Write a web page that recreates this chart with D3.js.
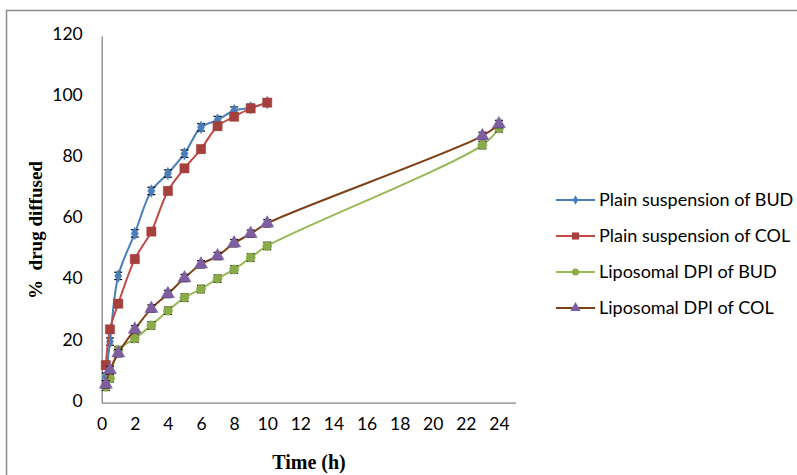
<!DOCTYPE html>
<html>
<head>
<meta charset="utf-8">
<script src="https://cdn.jsdelivr.net/npm/d3@7"></script>
<style>
  body { margin: 0; background: #fff; }
  svg { display: block; }
  .tick text { font-family: "Lato", "Open Sans", sans-serif; font-size: 17.5px; fill: #000; }
</style>
</head>
<body>
<div id="chart"></div>
<script>
// time points (h)
var timeShort = [0.25, 0.5, 1, 2, 3, 4, 5, 6, 7, 8, 9, 10];
var timeLong = [0.25, 0.5, 1, 2, 3, 4, 5, 6, 7, 8, 9, 10, 23, 24];

// % drug diffused
var plainBUD = [8.5, 20, 41.5, 55.4, 69.3, 75, 81.5, 90.1, 92.5, 95.6, 96.5, 98.2];
var plainCOL = [12.3, 24, 32.4, 47, 56, 69.3, 76.7, 83, 90.5, 93.6, 96.3, 98.2];
var lipoBUD = [5.2, 8, 17.2, 21, 25.3, 30.1, 34.4, 37.2, 40.6, 43.6, 47.5, 51.3, 84.3, 89.8];
var lipoCOL = [6, 10.7, 16.2, 24, 30.8, 35.6, 40.8, 45.3, 48, 52.2, 55.3, 58.7, 87.3, 91.2];

// error bars (+/-)
var errPlainBUD = [1.2, 1.2, 1.2, 1.2, 1.2, 1.2, 1.2, 1.2, 1.2, 1.2, 1.2, 1.2];
var errPlainCOL = [1.2, 1.2, 1.2, 1.2, 1.2, 1.2, 1.2, 1.2, 1.2, 1.2, 1.2, 1.2];
var errLipoBUD = [1.2, 1.2, 1.2, 1.2, 1.2, 1.2, 1.2, 1.2, 1.2, 1.2, 1.2, 1.2, 1.2, 1.2];
var errLipoCOL = [1.2, 1.2, 1.2, 1.2, 1.2, 1.2, 1.2, 1.2, 1.2, 1.2, 1.2, 1.2, 1.2, 1.2];

var seriesNames = ["Plain suspension of BUD", "Plain suspension of COL", "Liposomal DPI of BUD", "Liposomal DPI of COL"];
var xTicks = [0, 2, 4, 6, 8, 10, 12, 14, 16, 18, 20, 22, 24];
var yTicks = [0, 20, 40, 60, 80, 100, 120];

var series = [
  {name: seriesNames[0], t: timeShort, v: plainBUD, e: errPlainBUD, line: "#4a7ebb", fill: "#4a7ebb", shape: d3.symbolDiamond, size: 45},
  {name: seriesNames[1], t: timeShort, v: plainCOL, e: errPlainCOL, line: "#be4b48", fill: "#a5403d", shape: d3.symbolSquare, size: 85},
  {name: seriesNames[2], t: timeLong, v: lipoBUD, e: errLipoBUD, line: "#98b954", fill: "#8aab4a", shape: d3.symbolCircle, size: 65},
  {name: seriesNames[3], t: timeLong, v: lipoCOL, e: errLipoCOL, line: "#7f3f16", fill: "#7d5fa0", shape: d3.symbolTriangle, size: 75}
];

var width = 797, height = 475;
var svg = d3.select("#chart").append("svg")
  .attr("width", width)
  .attr("height", height);

// outer frame
svg.append("rect")
  .attr("x", 6.5).attr("y", 10.5)
  .attr("width", 800).attr("height", 480)
  .attr("fill", "none")
  .attr("stroke", "#8c8c8c")
  .attr("stroke-width", 1.5);

var x = d3.scaleLinear().domain([0, 25]).range([101.7, 515.5]);
var y = d3.scaleLinear().domain([0, 120]).range([402.7, 36]);

// axes
var xAxis = svg.append("g")
  .attr("transform", "translate(0," + y(0) + ")")
  .call(d3.axisBottom(x).tickValues(xTicks).tickSize(0).tickPadding(15));
xAxis.select(".domain").attr("stroke", "#868686").attr("stroke-width", 1.3);

var yAxis = svg.append("g")
  .attr("transform", "translate(" + x(0) + ",0)")
  .call(d3.axisLeft(y).tickValues(yTicks).tickSize(0).tickPadding(19));
yAxis.select(".domain").attr("stroke", "#868686").attr("stroke-width", 1.3);
yAxis.selectAll(".tick text").attr("dy", "0.2em");

// axis titles
svg.append("text")
  .attr("x", 309).attr("y", 469)
  .attr("text-anchor", "middle")
  .style("font-family", "'Liberation Serif', 'Times New Roman', serif")
  .style("font-weight", "bold")
  .style("font-size", "20px")
  .text("Time (h)");

svg.append("text")
  .attr("transform", "translate(42,230) rotate(-90)")
  .attr("text-anchor", "middle")
  .style("font-family", "'Liberation Serif', 'Times New Roman', serif")
  .style("font-weight", "bold")
  .style("font-size", "19px")
  .style("white-space", "pre")
  .text("%  drug diffused");

var line = d3.line()
  .x(function(d) { return x(d[0]); })
  .y(function(d) { return y(d[1]); })
  .curve(d3.curveCatmullRom.alpha(0.5));

series.forEach(function(s) {
  var pts = s.t.map(function(t, i) { return [t, s.v[i], s.e[i]]; });
  var g = svg.append("g");

  g.append("path")
    .datum(pts)
    .attr("fill", "none")
    .attr("stroke", s.line)
    .attr("stroke-width", 2)
    .attr("d", line);

  // error bars
  var eb = g.selectAll(".err").data(pts).enter().append("g").attr("class", "err");
  eb.append("line")
    .attr("x1", function(d) { return x(d[0]); })
    .attr("x2", function(d) { return x(d[0]); })
    .attr("y1", function(d) { return y(d[1] - d[2]); })
    .attr("y2", function(d) { return y(d[1] + d[2]); })
    .attr("stroke", "#000").attr("stroke-width", 1);
  [-1, 1].forEach(function(sgn) {
    eb.append("line")
      .attr("x1", function(d) { return x(d[0]) - 4; })
      .attr("x2", function(d) { return x(d[0]) + 4; })
      .attr("y1", function(d) { return y(d[1] + sgn * d[2]); })
      .attr("y2", function(d) { return y(d[1] + sgn * d[2]); })
      .attr("stroke", "#000").attr("stroke-width", 1.2);
  });

  g.selectAll(".mark").data(pts).enter().append("path")
    .attr("class", "mark")
    .attr("transform", function(d) { return "translate(" + x(d[0]) + "," + y(d[1]) + ")"; })
    .attr("d", d3.symbol().type(s.shape).size(s.size))
    .attr("fill", s.fill)
    .attr("stroke", s.fill)
    .attr("stroke-width", 0.5);
});

// legend
var legend = svg.append("g");
series.forEach(function(s, i) {
  var ly = 200 + i * 36;
  legend.append("line")
    .attr("x1", 556).attr("x2", 595)
    .attr("y1", ly).attr("y2", ly)
    .attr("stroke", s.line).attr("stroke-width", 2);
  legend.append("path")
    .attr("transform", "translate(575.5," + ly + ")")
    .attr("d", d3.symbol().type(s.shape).size(s.size * 0.6))
    .attr("fill", s.fill);
  legend.append("text")
    .attr("x", 599).attr("y", ly)
    .attr("dy", "0.35em")
    .style("font-family", "'Lato', 'Open Sans', sans-serif")
    .style("font-size", "18px")
    .text(s.name);
});
</script>
</body>
</html>
